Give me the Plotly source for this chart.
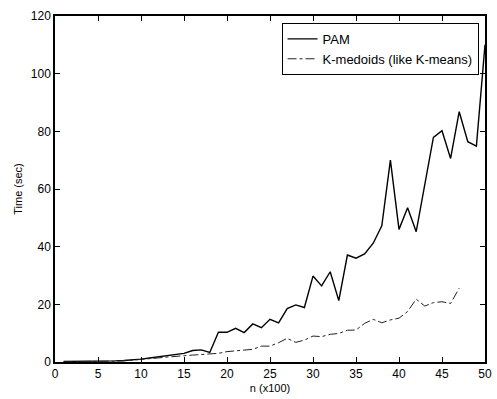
import plotly.graph_objects as go

n_pam = list(range(1, 51))
pam_time = [0.2, 0.2, 0.3, 0.3, 0.4, 0.4, 0.4, 0.5, 0.7, 1.0,
            1.4, 1.8, 2.2, 2.6, 3.0, 4.0, 4.2, 3.3, 10.3, 10.3,
            11.7, 10.2, 13.2, 11.9, 14.8, 13.6, 18.5, 19.8, 18.9, 29.8,
            26.4, 31.3, 21.3, 37.1, 36.0, 37.5, 41.2, 47.2, 70.0, 46.0,
            53.5, 45.2, 61.0, 77.9, 80.2, 70.6, 86.8, 76.4, 74.9, 110.0]

n_kmed = list(range(1, 48))
kmed_time = [0.1, 0.1, 0.2, 0.2, 0.3, 0.3, 0.3, 0.4, 0.6, 1.0,
             1.2, 1.4, 1.7, 2.0, 2.3, 2.4, 2.6, 2.8, 3.0, 3.6,
             3.9, 4.2, 4.4, 5.5, 5.5, 6.7, 8.2, 6.8, 7.6, 9.0,
             8.8, 9.6, 9.9, 11.0, 11.1, 13.4, 14.8, 13.6, 14.6, 15.2,
             17.5, 21.8, 19.4, 20.6, 20.9, 20.3, 25.6]

x_ticks = [0, 5, 10, 15, 20, 25, 30, 35, 40, 45, 50]
y_ticks = [0, 20, 40, 60, 80, 100, 120]

fig = go.Figure()
fig.add_trace(go.Scatter(x=n_pam, y=pam_time, mode="lines", name="PAM",
                         line=dict(color="black", width=1.4)))
fig.add_trace(go.Scatter(x=n_kmed, y=kmed_time, mode="lines",
                         name="K-medoids (like K-means)",
                         line=dict(color="#222222", width=1, dash="dashdot")))

axis_common = dict(showgrid=False, zeroline=False, showline=True, linecolor="black",
                   linewidth=1.5, mirror="ticks", ticks="inside", ticklen=5,
                   tickcolor="black", tickwidth=1.2,
                   tickfont=dict(family="Liberation Sans, Arial", size=12, color="black"))

fig.update_layout(
    width=497, height=399,
    margin=dict(l=55, r=5, t=16, b=37),
    paper_bgcolor="white", plot_bgcolor="white",
    font=dict(family="Liberation Sans, Arial", size=11, color="black"),
    xaxis=dict(range=[0, 50], tickvals=x_ticks,
               title=dict(text="n (x100)", standoff=4, font=dict(size=11)),
               **axis_common),
    yaxis=dict(range=[0, 120], tickvals=y_ticks,
               title=dict(text="Time (sec)", standoff=6, font=dict(size=11)),
               **axis_common),
    legend=dict(x=0.985, y=0.98, xanchor="right", yanchor="top",
                bgcolor="white", bordercolor="black", borderwidth=1,
                font=dict(size=13), tracegroupgap=0, itemwidth=30),
    showlegend=True,
)

fig.write_html("out.html", config={"displayModeBar": False},
               post_script="document.body.style.margin='0';")
